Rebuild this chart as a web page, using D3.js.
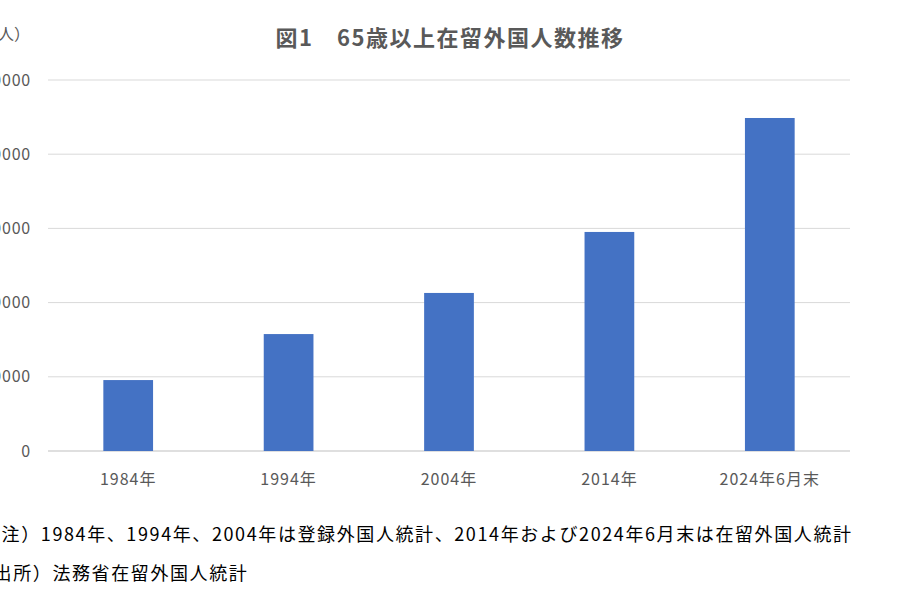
<!DOCTYPE html><html><head><meta charset="utf-8"><script src="https://cdn.jsdelivr.net/npm/d3@7"></script>
<style>body{margin:0;background:#fff}svg{display:block}</style></head><body><svg width="900" height="600"></svg>
<script>
const categories=["1984年","1994年","2004年","2014年","2024年6月末"];
const values=[47800,78800,106500,147600,224400];
const yTicks=[0,50000,100000,150000,200000,250000];
const svg=d3.select("svg");
const font="'Noto Sans CJK JP','Noto Sans',sans-serif";
const x=d3.scaleBand().domain(categories).range([48,850]).paddingInner(0.69).paddingOuter(0.345);
const y=d3.scaleLinear().domain([0,250000]).range([451,80]);
svg.append("g").selectAll("line").data(yTicks).join("line")
 .attr("x1",48).attr("x2",850).attr("y1",d=>y(d)).attr("y2",d=>y(d))
 .attr("stroke",d=>d===0?"#bfbfbf":"#d9d9d9").attr("stroke-width",1);
svg.append("g").selectAll("text").data(yTicks).join("text")
 .attr("x",31).attr("y",d=>y(d)).attr("dy","0.35em").attr("text-anchor","end")
 .attr("font-family",font).attr("font-size",16).attr("letter-spacing",0.8).attr("fill","#595959").text(d=>d);
svg.append("g").selectAll("rect").data(values).join("rect")
 .attr("x",(d,i)=>x(categories[i])).attr("width",x.bandwidth())
 .attr("y",d=>y(d)).attr("height",d=>y(0)-y(d)).attr("fill","#4472c4");
svg.append("g").selectAll("text").data(categories).join("text")
 .attr("x",d=>x(d)+x.bandwidth()/2).attr("y",485).attr("text-anchor","middle")
 .attr("font-family",font).attr("font-size",16).attr("letter-spacing",1).attr("fill","#595959").text(d=>d);
svg.append("text").attr("x",450).attr("y",46).attr("text-anchor","middle").attr("font-family",font)
 .attr("font-size",22).attr("letter-spacing",1.5).attr("font-weight","bold").attr("fill","#595959").text("図1　65歳以上在留外国人数推移");
svg.append("text").attr("x",-18).attr("y",40).attr("font-family",font).attr("font-size",16).attr("fill","#595959").text("（人）");
svg.append("text").attr("x",-18).attr("y",541).attr("font-family",font).attr("font-size",18).attr("letter-spacing",1.6).attr("fill","#000").text("（注）1984年、1994年、2004年は登録外国人統計、2014年および2024年6月末は在留外国人統計");
svg.append("text").attr("x",-26).attr("y",580).attr("font-family",font).attr("font-size",18).attr("letter-spacing",1.6).attr("fill","#000").text("（出所）法務省在留外国人統計");
</script></body></html>
